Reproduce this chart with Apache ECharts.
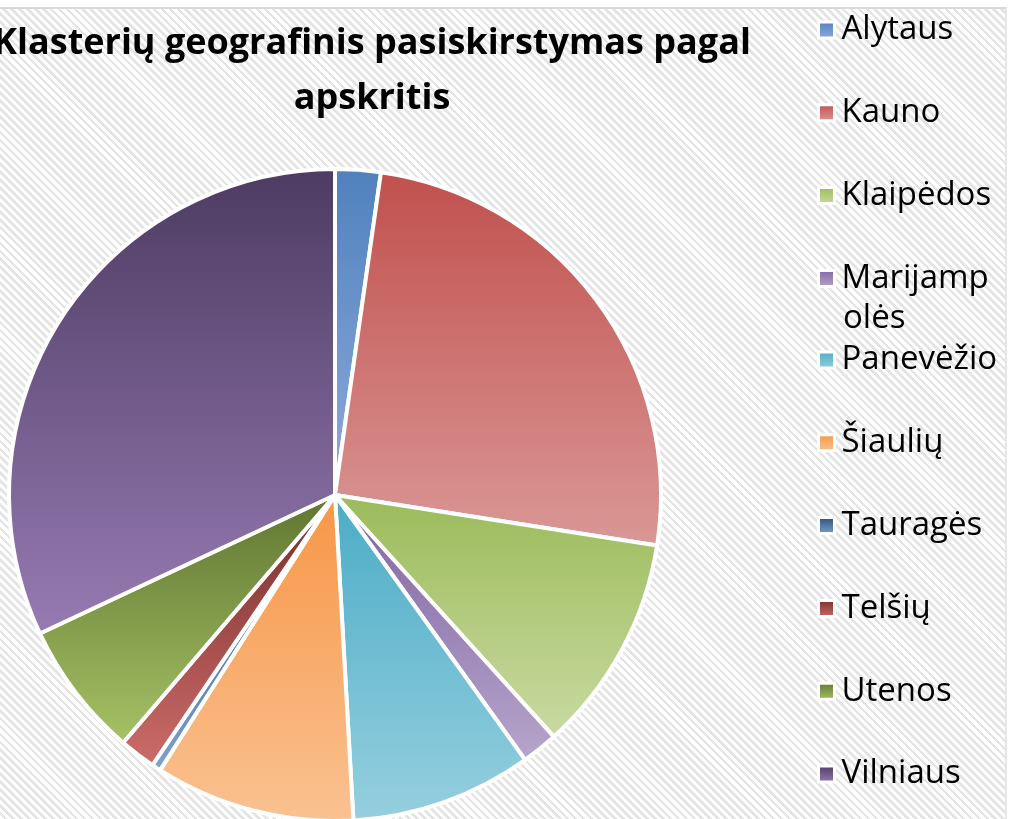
<!DOCTYPE html>
<html>
<head>
<meta charset="utf-8">
<script src="https://cdn.jsdelivr.net/npm/echarts@6/dist/echarts.min.js"></script>
<style>
  html, body { margin: 0; padding: 0; background: #ffffff; }
  #wrap { position: relative; width: 1017px; height: 819px; overflow: hidden; background: #ffffff; }
  #bg { position: absolute; left: -4px; top: 7px; width: 1009px; height: 830px;
        border-top: 2px solid #d9d9d9; border-right: 2px solid #e6e6e6;
        background: repeating-linear-gradient(45deg, #ffffff 0px, #ffffff 3px, #e4e4e4 3px, #e4e4e4 5.6px); }
  #chart { position: absolute; left: 0; top: 0; width: 1017px; height: 819px; }
</style>
</head>
<body>
<div id="wrap">
  <div id="bg"></div>
  <div id="chart"></div>
</div>
<script>
// ---- data ----
const titleText = 'Klasterių geografinis pasiskirstymas pagal\napskritis';
const categories = ['Alytaus', 'Kauno', 'Klaipėdos', 'Marijampolės', 'Panevėžio', 'Šiaulių', 'Tauragės', 'Telšių', 'Utenos', 'Vilniaus'];
const values = [5, 56, 24, 4, 20, 22, 1, 4, 15, 71];
// gradient colours (top -> bottom) per slice
const colorTop = ['#4F81BD', '#C0504D', '#9BBB59', '#8064A2', '#4BACC6', '#F79646', '#2C4D75', '#772C2A', '#5F7530', '#4D3B62'];
const colorBottom = ['#8FAADC', '#DA9896', '#C9DAA2', '#B6A5CB', '#96CFDF', '#FAC292', '#7DA2D2', '#CC6C6A', '#A6C266', '#977BB3'];
// legend split (the long name wraps in the reference without shifting the rest)
const legendFirst = categories.slice(0, 4);
const legendSecond = categories.slice(4);
const wrappedName = 'Marijampolės';
const wrappedLines = ['Marijamp', 'olės'];

const chart = echarts.init(document.getElementById('chart'), null, { renderer: 'canvas' });

const seriesData = categories.map((name, i) => ({
  name: name,
  value: values[i],
  itemStyle: {
    color: {
      type: 'linear', x: 0, y: 0, x2: 0, y2: 1,
      colorStops: [{ offset: 0, color: colorTop[i] }, { offset: 1, color: colorBottom[i] }]
    }
  }
}));

const legendBase = {
  orient: 'vertical',
  left: 812,
  itemWidth: 16,
  itemHeight: 16,
  itemGap: 37.8,
  icon: 'rect',
  selectedMode: false,
  itemStyle: { borderColor: '#ffffff', borderWidth: 3 },
  formatter: function (name) {
    return name === wrappedName ? wrappedLines[0] : name;
  },
  textStyle: {
    fontFamily: 'Open Sans',
    fontSize: 33,
    color: '#000000',
    lineHeight: 45,
    padding: [0, 0, 0, 2]
  }
};

chart.setOption({
  animation: false,
  backgroundColor: 'transparent',
  title: {
    text: titleText,
    left: 367,
    top: 11,
    textAlign: 'center',
    textStyle: {
      fontFamily: 'Open Sans',
      fontWeight: 'bold',
      fontSize: 36,
      lineHeight: 55,
      color: '#000000'
    }
  },
  legend: [
    Object.assign({}, legendBase, { top: 2.5, data: legendFirst }),
    Object.assign({}, legendBase, { top: 332.5, data: legendSecond })
  ],
  graphic: [{
    type: 'text',
    left: 843,
    top: 296,
    silent: true,
    style: {
      text: wrappedLines[1],
      fontFamily: 'Open Sans',
      fontSize: 33,
      fill: '#000000',
      lineHeight: 45
    }
  }],
  series: [{
    type: 'pie',
    center: [335, 495],
    radius: 326,
    startAngle: 90,
    clockwise: true,
    label: { show: false },
    labelLine: { show: false },
    emphasis: { disabled: true },
    itemStyle: { borderColor: '#ffffff', borderWidth: 4 },
    data: seriesData
  }]
});
</script>
</body>
</html>
